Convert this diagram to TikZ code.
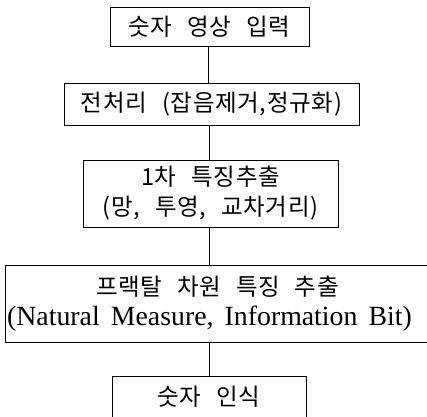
\documentclass[tikz,border=0pt]{standalone}
\usepackage{fontspec}
\setmainfont{Liberation Serif}
\newfontfamily\kr{Noto Sans CJK KR}[LetterSpace=3,WordSpace=2.5]
\newfontfamily\lat{Liberation Serif}[WordSpace=1.6]
\begin{document}
\begin{tikzpicture}[x=1pt,y=-1pt,
    box/.style={draw,line width=0.8pt,inner sep=0pt,align=center,
      font=\kr\fontsize{23.5}{30}\selectfont},
    link/.style={line width=0.6pt}]
  \clip (0,0) rectangle (427,416);
  \fill[white] (0,0) rectangle (427,416);

  \node[box,minimum width=199pt,minimum height=39pt] (input) at (209.5,26.5) {숫자 영상 입력};
  \node[box,minimum width=295pt,minimum height=42pt] (prep) at (211.5,104) {전처리 (잡음제거,정규화)};
  \node[box,minimum width=255pt,minimum height=67pt] (feat) at (210.5,193.5) {1차 특징추출\\(망, 투영, 교차거리)};
  \node[box,draw=none,minimum width=407pt,minimum height=76pt] (fractal) at (209.5,304)
    {\hspace*{16pt}프랙탈 차원 특징 추출\\{\lat\fontsize{27.8}{30}\selectfont (Natural Measure, Information Bit)}};
  \draw[line width=1.2pt] (fractal.north west) rectangle ([xshift=30pt]fractal.south east);
  \node[box,minimum width=194pt,minimum height=42pt] (recog) at (209,397) {숫자 인식};

  \draw[link] (input.south -| 208.5,0) -- (prep.north -| 208.5,0);
  \draw[link] (prep.south -| 209,0) -- (feat.north -| 209,0);
  \draw[link] (feat.south -| 209,0) -- (fractal.north -| 209,0);
  \draw[link] (fractal.south -| 209,0) -- (recog.north -| 209,0);
\end{tikzpicture}
\end{document}
